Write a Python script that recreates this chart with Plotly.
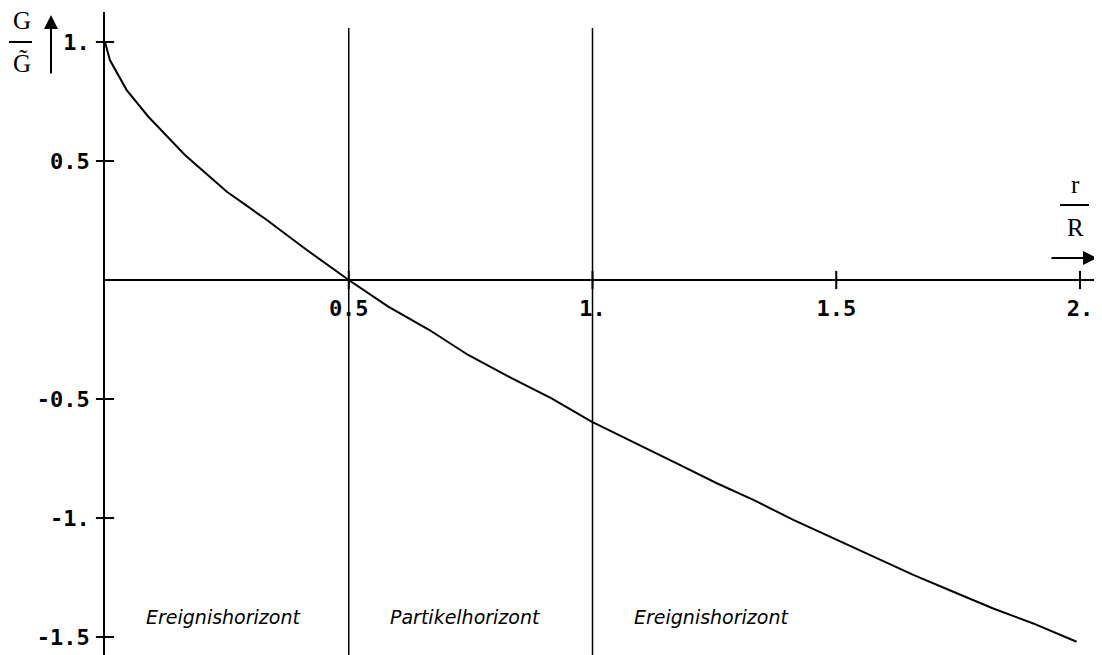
import plotly.graph_objects as go

# curve G/G~ against r/R
r = [0.0, 0.010, 0.0445, 0.089, 0.164, 0.25, 0.332, 0.414, 0.5, 0.581, 0.663,
     0.745, 0.831, 0.916, 0.998, 1.094, 1.179, 1.255, 1.33, 1.412, 1.494,
     1.576, 1.658, 1.74, 1.822, 1.904, 1.993]
g = [1.0, 0.924, 0.798, 0.686, 0.525, 0.371, 0.252, 0.126, 0.0, -0.112, -0.207,
     -0.315, -0.409, -0.497, -0.595, -0.690, -0.777, -0.854, -0.924, -1.008,
     -1.085, -1.163, -1.239, -1.31, -1.38, -1.443, -1.52]

horizons = [0.5, 1.0]
region_labels = ["Ereignishorizont", "Partikelhorizont", "Ereignishorizont"]

x_ticks = [0.5, 1.0, 1.5, 2.0]
x_ticktext = ["0.5", "1.", "1.5", "2."]
y_ticks = [1.0, 0.5, -0.5, -1.0, -1.5]
y_ticktext = ["1.", "0.5", "-0.5", "-1.", "-1.5"]

# page body has an 8px margin, figure is shifted by it
OFF = 8
W, H = 1102 - OFF, 655 - OFF
ML, MT = 105 - OFF, 12 - OFF
xr = [0, 2.0451]
yr = [-1.5756, 1.126]

tick_font = dict(family="DejaVu Sans Mono", size=22, color="black", weight="bold")

fig = go.Figure()

fig.add_trace(go.Scatter(x=r, y=g, mode="lines",
                         line=dict(color="black", width=2), hoverinfo="skip"))

# crossing tick marks on both axes
fig.add_trace(go.Scatter(x=x_ticks, y=[0] * len(x_ticks), mode="markers",
                         marker=dict(symbol="line-ns", size=13,
                                     line=dict(color="black", width=2)),
                         hoverinfo="skip", cliponaxis=False))
fig.add_trace(go.Scatter(x=[0] * len(y_ticks), y=y_ticks, mode="markers",
                         marker=dict(symbol="line-ew", size=13,
                                     line=dict(color="black", width=2)),
                         hoverinfo="skip", cliponaxis=False))

for h in horizons:
    fig.add_shape(type="line", xref="x", yref="y", x0=h, x1=h, y0=yr[0], y1=1.059,
                  line=dict(color="black", width=1.5))

starts = [0] + horizons
for s, lab in zip(starts, region_labels):
    fig.add_annotation(x=s + 0.08, y=-1.416, text=lab, showarrow=False,
                       xanchor="left", yanchor="middle",
                       font=dict(family="DejaVu Sans", size=19, style="italic",
                                 color="black"))


def px(p):
    return (p - OFF - ML) / (W - ML)


def py(p):
    return 1 - (p - OFF - MT) / (H - MT)


serif = dict(family="Liberation Serif", size=25, color="black")
lbl = dict(xref="paper", yref="paper", showarrow=False, font=serif,
           xanchor="center", yanchor="middle")
arr = dict(xref="paper", yref="paper", text="", showarrow=True, arrowhead=2,
           arrowsize=1.4, arrowwidth=2, arrowcolor="black",
           xanchor="center", yanchor="middle")

# y-axis label: G over G~ with up arrow
fig.add_annotation(x=px(22), y=py(21), text="G", **lbl)
fig.add_shape(type="line", xref="paper", yref="paper", x0=px(9), x1=px(32),
              y0=py(42), y1=py(42), line=dict(color="black", width=2))
fig.add_annotation(x=px(22), y=py(64), text="G\u0303", **lbl)
fig.add_annotation(x=px(51), y=py(15), ax=0, ay=60, **arr)

# x-axis label: r over R with right arrow
fig.add_annotation(x=px(1075), y=py(184), text="r", **lbl)
fig.add_shape(type="line", xref="paper", yref="paper", x0=px(1060), x1=px(1089),
              y0=py(205), y1=py(205), line=dict(color="black", width=2))
fig.add_annotation(x=px(1075), y=py(228), text="R", **lbl)
fig.add_annotation(x=px(1097), y=py(258), ax=-47, ay=0, **arr)

fig.update_layout(
    width=W, height=H,
    margin=dict(l=ML, r=0, t=MT, b=0),
    paper_bgcolor="white", plot_bgcolor="white",
    showlegend=False,
    xaxis=dict(range=xr, anchor="free", position=(0 - yr[0]) / (yr[1] - yr[0]),
               showline=True, linecolor="black", linewidth=1.5,
               showgrid=False, zeroline=False, ticks="",
               tickvals=x_ticks, ticktext=x_ticktext, tickfont=tick_font,
               ticklabelstandoff=9),
    yaxis=dict(range=yr, showline=True, linecolor="black", linewidth=1.5,
               showgrid=False, zeroline=False, ticks="",
               tickvals=y_ticks, ticktext=y_ticktext, tickfont=tick_font,
               ticklabelstandoff=9),
)

fig.write_html("out.html")
